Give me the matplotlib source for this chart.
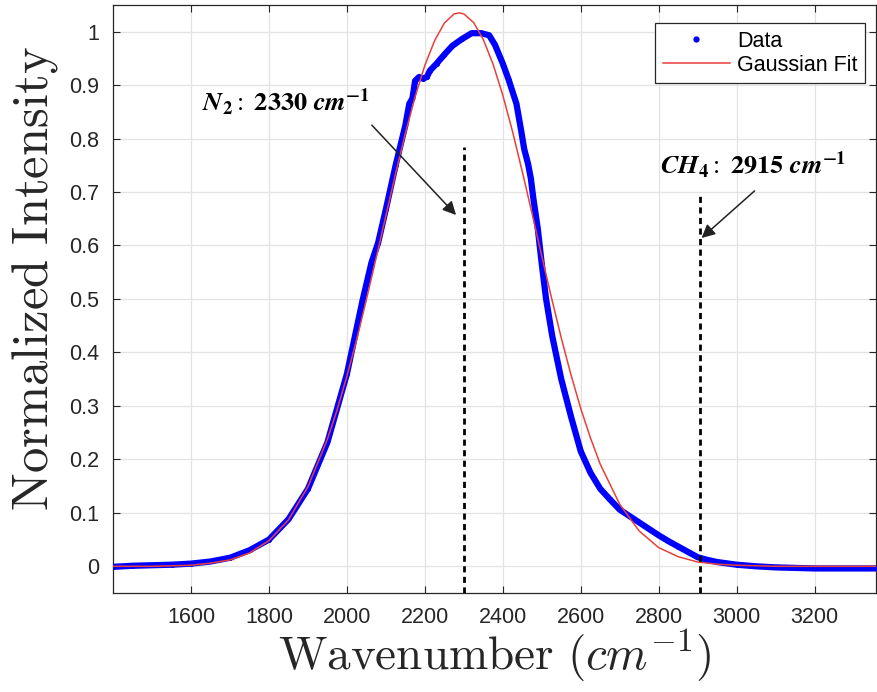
import matplotlib
matplotlib.use('Agg')
import matplotlib.pyplot as plt
from matplotlib.lines import Line2D

data_x = [1400, 1450, 1500, 1550, 1600, 1650, 1700, 1750, 1800, 1850, 1900, 1950,
          2000, 2040, 2063, 2080, 2100, 2125, 2150, 2160, 2168, 2175, 2185, 2195,
          2205, 2213, 2230, 2250, 2270, 2295, 2320, 2345, 2365, 2380, 2400, 2415,
          2435, 2447, 2455, 2465, 2472, 2478, 2490, 2500, 2511, 2527, 2550, 2575,
          2600, 2625, 2650, 2675, 2700, 2725, 2750, 2775, 2800, 2825, 2850, 2875,
          2900, 2925, 2950, 3000, 3050, 3100, 3200, 3300, 3360]
data_y = [-0.001, 0.001, 0.002, 0.003, 0.005, 0.009, 0.016, 0.030, 0.050, 0.088, 0.145, 0.232,
          0.360, 0.497, 0.568, 0.605, 0.668, 0.750, 0.825, 0.865, 0.875, 0.908, 0.915, 0.912,
          0.915, 0.927, 0.940, 0.957, 0.973, 0.986, 0.997, 0.997, 0.993, 0.975, 0.940, 0.910,
          0.865, 0.815, 0.780, 0.752, 0.725, 0.690, 0.630, 0.565, 0.500, 0.430, 0.350, 0.280,
          0.215, 0.175, 0.145, 0.125, 0.106, 0.094, 0.082, 0.070, 0.058, 0.047, 0.037, 0.027,
          0.017, 0.012, 0.008, 0.003, 0.000, -0.002, -0.004, -0.004, -0.004]

# gaussian fit curve
fit_x = [1400, 1450, 1500, 1550, 1600, 1650, 1700, 1750, 1800, 1850, 1900, 1950,
         1975, 2000, 2025, 2050, 2075, 2100, 2125, 2150, 2175, 2200, 2225, 2250,
         2275, 2288, 2300, 2325, 2350, 2375, 2400, 2425, 2450, 2475, 2500, 2525,
         2550, 2575, 2600, 2625, 2650, 2700, 2750, 2800, 2850, 2900, 2950, 3000,
         3050, 3100, 3150, 3360]
fit_y = [0.000, 0.000, 0.000, 0.001, 0.002, 0.006, 0.012, 0.025, 0.048, 0.087, 0.149, 0.238,
         0.293, 0.356, 0.424, 0.499, 0.577, 0.656, 0.735, 0.810, 0.878, 0.937, 0.983, 1.016,
         1.033, 1.035, 1.033, 1.017, 0.985, 0.939, 0.881, 0.813, 0.738, 0.660, 0.580, 0.502,
         0.427, 0.358, 0.295, 0.240, 0.191, 0.116, 0.066, 0.035, 0.018, 0.008, 0.004, 0.002,
         0.001, 0.000, 0.000, 0.000]

# marker lines and labels
peak_pos = [2300, 2905]
peak_top = [0.785, 0.70]
peak_labels = [r'$\mathbfit{N}_{\mathbf{2}}{:}\ \mathbf{2330}\ \mathbfit{cm}^{\mathbf{-1}}$',
               r'$\mathbfit{CH}_{\mathbf{4}}{:}\ \mathbf{2915}\ \mathbfit{cm}^{\mathbf{-1}}$']
label_xy = [(1842, 0.868), (3042, 0.750)]
arrow_from = [(2064, 0.825), (3046, 0.702)]
arrow_to = [(2280, 0.657), (2910, 0.614)]

plt.rcParams['mathtext.fontset'] = 'stix'
plt.rcParams['font.family'] = ['Liberation Sans', 'DejaVu Sans']

fig = plt.figure(figsize=(8.77, 6.92), dpi=100)
ax = fig.add_axes([0.129, 0.143, 0.870, 0.850])

ax.plot(data_x, data_y, color='#0000ff', lw=4.5, marker='.', ms=5, zorder=3)
ax.plot(fit_x, fit_y, color='#e8403a', lw=1.1, zorder=4)

for x0, top in zip(peak_pos, peak_top):
    ax.plot([x0, x0], [-0.05, top], color='k', lw=2, ls=(0, (2.2, 1.6)), zorder=5)

for txt, (tx, ty) in zip(peak_labels, label_xy):
    ax.text(tx, ty, txt, fontsize=19, ha='center', va='center', zorder=6)

for (x1, y1), (x2, y2) in zip(arrow_from, arrow_to):
    ax.annotate('', xy=(x2, y2), xytext=(x1, y1),
                arrowprops=dict(arrowstyle='-|>', color='#222222', lw=1.1,
                                mutation_scale=20, shrinkA=0, shrinkB=0), zorder=6)

ax.set_xlim(1400, 3358)
ax.set_ylim(-0.05, 1.05)
ax.set_xticks(range(1600, 3201, 200))
yt = [i / 10 for i in range(11)]
ax.set_yticks(yt)
ax.set_yticklabels(['0'] + ['%.1f' % v for v in yt[1:-1]] + ['1'])
ax.tick_params(direction='in', top=True, right=True, length=5, width=0.8,
               labelsize=15.5, colors='#262626', pad=10)
ax.grid(True, color='#e3e3e3', lw=0.9)
ax.set_axisbelow(True)
for s in ax.spines.values():
    s.set_color('#262626')
    s.set_linewidth(0.9)

ax.set_xlabel(r'$\mathrm{Wavenumber}\ (cm^{-1})$', fontsize=34, color='#262626',
              math_fontfamily='cm', labelpad=0)
ax.set_ylabel(r'$\mathrm{Normalized\ Intensity}$', fontsize=36.5, color='#262626',
              math_fontfamily='cm')
ax.yaxis.set_label_coords(-0.069, 0.535)

handles = [Line2D([], [], color='#0000ff', marker='.', ls='none', ms=7),
           Line2D([], [], color='#e8403a', lw=1.1)]
leg = ax.legend(handles, ['Data', 'Gaussian Fit'], loc='upper right', fontsize=15.5,
                handlelength=3.1, handletextpad=0.35, borderpad=0.35, labelspacing=0.15,
                borderaxespad=0, fancybox=False, framealpha=1,
                bbox_to_anchor=(0.9856, 0.969))
leg.get_frame().set_edgecolor('#262626')
leg.get_frame().set_linewidth(0.9)

fig.savefig('out.png', dpi=100)
